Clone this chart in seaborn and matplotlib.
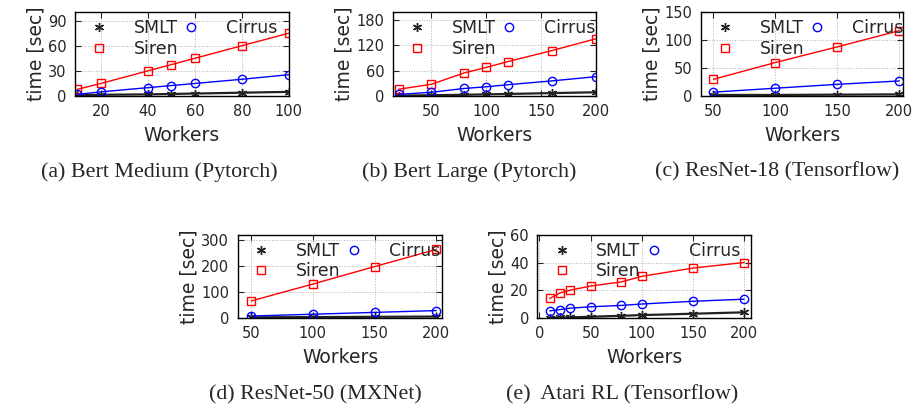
import matplotlib
matplotlib.use("Agg")
import matplotlib.pyplot as plt
from matplotlib.lines import Line2D
import seaborn as sns
import pandas as pd

# (a) Bert Medium (Pytorch)
bert_med_workers = [10, 20, 40, 50, 60, 80, 100]
bert_med_smlt = [1, 1.5, 2, 2.5, 3, 4, 5]
bert_med_siren = [8, 15, 30, 37.5, 45, 60, 75]
bert_med_cirrus = [2, 5, 10, 12.5, 15, 20, 25.5]

# (b) Bert Large (Pytorch)
bert_large_workers = [20, 50, 80, 100, 120, 160, 200]
bert_large_smlt = [1, 2, 3, 4, 5, 7, 9]
bert_large_siren = [16, 28, 55, 68, 82, 108, 136]
bert_large_cirrus = [4, 9, 18, 22, 27, 36, 46]

# (c) ResNet-18 (Tensorflow)
r18_workers = [50, 100, 150, 200]
r18_smlt = [2, 2, 2.5, 3]
r18_siren = [30, 60, 88, 117]
r18_cirrus = [7, 14, 21, 27]

# (d) ResNet-50 (MXNet)
r50_workers = [50, 100, 150, 200]
r50_smlt = [2, 3, 4, 5]
r50_siren = [65, 130, 197, 263]
r50_cirrus = [7, 14, 21, 28]

# (e) Atari RL (Tensorflow)
atari_workers = [10, 20, 30, 50, 80, 100, 150, 200]
atari_smlt = [0.2, 0.3, 0.4, 0.8, 1.5, 2, 3, 4]
atari_siren = [14, 18, 20, 23, 26, 30, 36, 40]
atari_cirrus = [5, 6, 7, 8, 9, 10, 12, 13.5]

captions = [
    "(a) Bert Medium (Pytorch)",
    "(b) Bert Large (Pytorch)",
    "(c) ResNet-18 (Tensorflow)",
    "(d) ResNet-50 (MXNet)",
    "(e)  Atari RL (Tensorflow)",
]

sns.set_style("ticks")
plt.rcParams["font.family"] = ["DejaVu Sans"]

systems = ["SMLT", "Siren", "Cirrus"]
palette = {"SMLT": "#222222", "Siren": "#ff0000", "Cirrus": "#0000ff"}
markers = {"SMLT": (6, 2, 0), "Siren": "s", "Cirrus": "o"}

panels = [
    (bert_med_workers, bert_med_smlt, bert_med_siren, bert_med_cirrus,
     [0.082, 0.764, 0.234, 0.206], (9, 100), (0, 100),
     [20, 40, 60, 80, 100], [0, 30, 60, 90], (0.174, 0.577)),
    (bert_large_workers, bert_large_smlt, bert_large_siren, bert_large_cirrus,
     [0.430, 0.764, 0.222, 0.206], (15, 200), (0, 199),
     [50, 100, 150, 200], [0, 60, 120, 180], (0.513, 0.577)),
    (r18_workers, r18_smlt, r18_siren, r18_cirrus,
     [0.767, 0.764, 0.221, 0.206], (40, 203), (0, 150),
     [50, 100, 150, 200], [0, 50, 100, 150], (0.850, 0.577)),
    (r50_workers, r50_smlt, r50_siren, r50_cirrus,
     [0.260, 0.219, 0.224, 0.204], (39, 205), (0, 319),
     [50, 100, 150, 200], [0, 100, 200, 300], (0.345, 0.029)),
    (atari_workers, atari_smlt, atari_siren, atari_cirrus,
     [0.588, 0.219, 0.234, 0.204], (-2, 207), (0, 60),
     [0, 50, 100, 150, 200], [0, 20, 40, 60], (0.681, 0.029)),
]

fig = plt.figure(figsize=(9.14, 4.07), dpi=100)

for (workers, smlt, siren, cirrus, rect, xlim, ylim,
     xticks, yticks, cap_pos), caption in zip(panels, captions):
    ax = fig.add_axes(rect)
    df = pd.DataFrame({"Workers": workers, "SMLT": smlt,
                       "Siren": siren, "Cirrus": cirrus})

    for name in systems:
        sns.lineplot(
            data=df, x="Workers", y=name,
            color=palette[name], marker=markers[name],
            markersize=6.5 if name == "SMLT" else 6,
            markeredgewidth=1, markerfacecolor="none",
            markeredgecolor=palette[name],
            linewidth=1.6 if name == "SMLT" else 1, ax=ax
        )

    ax.set_xlim(*xlim)
    ax.set_ylim(*ylim)
    ax.set_xticks(xticks)
    ax.set_yticks(yticks)
    ax.grid(True, linestyle=":", color="#b0b0b0", linewidth=0.7)
    ax.tick_params(direction="in", length=4, labelsize=10.5,
                   top=True, right=True, pad=6)
    for s in ax.spines.values():
        s.set_linewidth(1)
        s.set_color("black")

    ax.set_xlabel("Workers", fontsize=13.5, labelpad=5)
    ax.set_ylabel("time [sec]", fontsize=13.5, labelpad=2)

    # legend in gnuplot style: marker only, no line sample
    handles = [
        Line2D([], [], linestyle="none", marker=markers[n],
               markersize=6.5 if n == "SMLT" else 6,
               markerfacecolor="none",
               markeredgecolor=palette[n], markeredgewidth=1)
        for n in systems
    ]
    ax.legend(handles, systems, ncol=2, loc="upper left",
              frameon=False, fontsize=12.5, handlelength=1,
              handletextpad=1.5, columnspacing=0.25,
              labelspacing=0.15, borderaxespad=0.1, borderpad=0.3,
              bbox_to_anchor=(0.04, 1.0))

    fig.text(cap_pos[0], cap_pos[1], caption, ha="center", va="center",
             fontsize=15.8, family="Liberation Serif")

fig.savefig("out.png", dpi=100)
